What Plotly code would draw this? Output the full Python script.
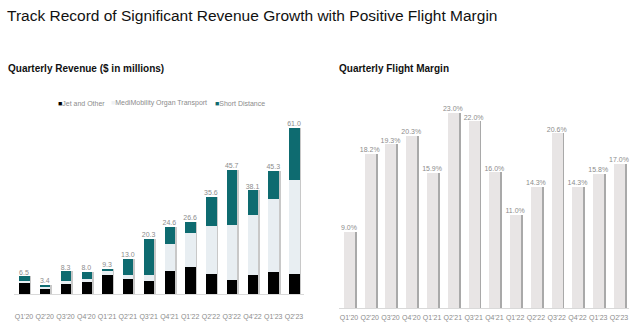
import numpy as np
import plotly.graph_objects as go

quarters = ["Q1'20", "Q2'20", "Q3'20", "Q4'20", "Q1'21", "Q2'21", "Q3'21",
            "Q4'21", "Q1'22", "Q2'22", "Q3'22", "Q4'22", "Q1'23", "Q2'23"]

# Quarterly revenue by segment ($M)
jet_other = [4.2, 2.2, 3.6, 4.5, 6.9, 5.6, 4.7, 8.6, 9.8, 7.4, 5.1, 7.1, 8.1, 7.4]
medimobility = [0.4, 0.5, 1.0, 1.1, 1.5, 1.5, 2.2, 9.8, 12.6, 17.5, 20.2, 21.8, 26.7, 34.5]
short_distance = [1.9, 0.7, 3.7, 2.4, 0.9, 5.9, 13.4, 6.2, 4.2, 10.7, 20.4, 9.2, 10.5, 19.1]
revenue_total = [6.5, 3.4, 8.3, 8.0, 9.3, 13.0, 20.3, 24.6, 26.6, 35.6, 45.7, 38.1, 45.3, 61.0]

# Quarterly flight margin (%)
flight_margin = [9.0, 18.2, 19.3, 20.3, 15.9, 23.0, 22.0, 16.0, 11.0, 14.3, 20.6, 14.3, 15.8, 17.0]

FONT = "Liberation Sans, Arial, sans-serif"
BLACK = "#000000"
LIGHT = "#e8eef2"
TEAL = "#0e6b70"
MARGIN_BAR = "#e8e5e5"
SHADOW = "#a9a9a9"
LABEL = "#8c8c8c"

x = np.arange(len(quarters))
jet = np.array(jet_other)
medi = np.array(medimobility)
short = np.array(short_distance)

fig = go.Figure()

BW_L = 0.5
# soft drop shadow behind the stacked revenue bars
fig.add_trace(go.Bar(x=x, y=jet + medi + short, width=BW_L, offset=-BW_L / 2 + 0.08,
                     marker=dict(color="#c8c8c8", line=dict(width=0)),
                     xaxis="x", yaxis="y", hoverinfo="skip", showlegend=False))
for name, vals, base, color in [
    ("Jet and Other", jet, np.zeros_like(jet), BLACK),
    ("MediMobility Organ Transport", medi, jet, LIGHT),
    ("Short Distance", short, jet + medi, TEAL),
]:
    fig.add_trace(go.Bar(x=x, y=vals, base=base, width=BW_L, offset=-BW_L / 2,
                         marker=dict(color=color, line=dict(width=0)), name=name,
                         xaxis="x", yaxis="y", showlegend=False))

# value labels above the revenue bars
fig.add_trace(go.Scatter(x=x, y=revenue_total, mode="text",
                         text=[f"{v:.1f}" for v in revenue_total],
                         textposition="top center",
                         textfont=dict(family=FONT, size=7, color=LABEL),
                         xaxis="x", yaxis="y", hoverinfo="skip", showlegend=False))

BW_R = 0.53
fm = np.array(flight_margin)
fig.add_trace(go.Bar(x=x, y=fm, width=BW_R, offset=-BW_R / 2 + 0.09,
                     marker=dict(color=SHADOW, line=dict(width=0)),
                     xaxis="x2", yaxis="y2", hoverinfo="skip", showlegend=False))
fig.add_trace(go.Bar(x=x, y=fm, width=BW_R, offset=-BW_R / 2,
                     marker=dict(color=MARGIN_BAR, line=dict(width=0)),
                     name="Flight Margin", xaxis="x2", yaxis="y2", showlegend=False))
fig.add_trace(go.Scatter(x=x, y=fm, mode="text",
                         text=[f"{v:.1f}%" for v in flight_margin],
                         textposition="top center",
                         textfont=dict(family=FONT, size=7, color=LABEL),
                         xaxis="x2", yaxis="y2", hoverinfo="skip", showlegend=False))

W, H = 640, 330
tickfont = dict(family=FONT, size=7, color=LABEL)

fig.update_layout(
    width=W, height=H,
    margin=dict(l=0, r=0, t=0, b=0),
    paper_bgcolor="white", plot_bgcolor="white",
    barmode="overlay", bargap=0,
    showlegend=False,
    font=dict(family=FONT),
    xaxis=dict(domain=[13.6 / W, 304.4 / W], range=[-0.5, 13.5],
               tickmode="array", tickvals=list(x), ticktext=quarters,
               tickfont=tickfont, ticks="", ticklabelstandoff=16,
               showline=True, linecolor="#d9d9d9", linewidth=1,
               showgrid=False, zeroline=False, fixedrange=True),
    yaxis=dict(domain=[36 / H, 230 / H], range=[0, 194 / 2.72],
               visible=False, showgrid=False, zeroline=False),
    xaxis2=dict(domain=[338.6 / W, 629.4 / W], range=[-0.5, 13.5],
                tickmode="array", tickvals=list(x), ticktext=quarters,
                tickfont=tickfont, ticks="", ticklabelstandoff=3,
                showline=True, linecolor="#d9d9d9", linewidth=1,
                showgrid=False, zeroline=False, anchor="y2"),
    yaxis2=dict(domain=[22 / H, 230 / H], range=[0, 208 / 8.48],
                visible=False, showgrid=False, zeroline=False, anchor="x2"),
)

annotations = [
    dict(text="Track Record of Significant Revenue Growth with Positive Flight Margin",
         x=5 / W, y=1 - 16 / H, xref="paper", yref="paper", xanchor="left", yanchor="middle",
         showarrow=False, font=dict(family=FONT, size=15.5, color="#111111")),
    dict(text="<b>Quarterly Revenue ($ in millions)</b>",
         x=6 / W, y=1 - 68 / H, xref="paper", yref="paper", xanchor="left", yanchor="middle",
         showarrow=False, font=dict(family=FONT, size=10, color="#111111")),
    dict(text="<b>Quarterly Flight Margin</b>",
         x=337 / W, y=1 - 68 / H, xref="paper", yref="paper", xanchor="left", yanchor="middle",
         showarrow=False, font=dict(family=FONT, size=10, color="#111111")),
]
legend_items = [
    (56, BLACK, "Jet and Other"),
    (109, "#eef1f4", "MediMobility Organ Transport"),
    (213, TEAL, "Short Distance"),
]
for lx, col, label in legend_items:
    annotations.append(dict(
        text=f"<span style='color:{col}'>■</span><span style='color:{LABEL}'>{label}</span>",
        x=lx / W, y=1 - 103 / H, xref="paper", yref="paper", xanchor="left", yanchor="middle",
        showarrow=False, font=dict(family=FONT, size=7)))
fig.update_layout(annotations=annotations)

fig.write_html("out.html")
